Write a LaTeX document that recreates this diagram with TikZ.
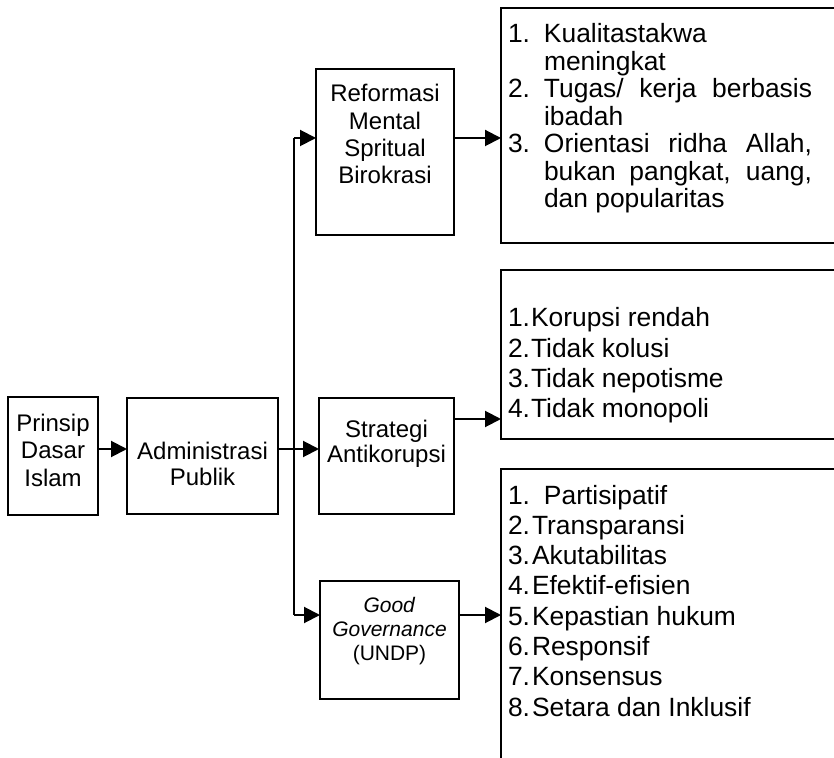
\documentclass[tikz,border=0pt]{standalone}
\usepackage{fontspec}
\setmainfont{Liberation Sans}
\usetikzlibrary{arrows.meta,positioning}

\newcommand{\isikotak}[4]{\parbox[c][#2][t]{#1}{\centering\rule{0pt}{#3}#4}}
\newcommand{\isidaftar}[4]{\parbox[c][#2][t]{#1}{\leftskip=3.5pt\relax\rule{0pt}{#3}#4}}

\begin{document}
\begin{tikzpicture}[x=0.5pt,y=-0.5pt]
\tikzstyle{block} = [rectangle, draw=black, line width=1pt, inner sep=0pt, outer sep=0pt]
\tikzstyle{kiri} = [block, font=\fontsize{12}{13.75}\selectfont]
\tikzstyle{daftar} = [block, anchor=north west, font=\fontsize{13.2}{15.15}\selectfont]
\tikzstyle{arrow} = [line width=1pt,-{Triangle[length=8pt,width=8pt]}]
\tikzstyle{line} = [line width=1pt]
\clip (0,0) rectangle (834,758);
%
\node (prinsip) [kiri, anchor=north west] at (8,397) {\isikotak{45pt}{59pt}{17pt}{Prinsip\\Dasar\\Islam}};
\node (admin) [kiri, font=\fontsize{12}{13}\selectfont, right=14.5pt of prinsip] {\isikotak{75.5pt}{58pt}{30.5pt}{Administrasi\\Publik}};
\node (strategi) [kiri, font=\fontsize{12}{12.5}\selectfont, right=20.5pt of admin] {\isikotak{67.5pt}{58pt}{19.5pt}{Strategi\\Antikorupsi}};
\node (reformasi) [kiri, font=\fontsize{12}{13.6}\selectfont, anchor=north west] at (316,69) {\isikotak{69pt}{83pt}{16.5pt}{Reformasi\\Mental\\Spritual\\Birokrasi}};
\node (good) [kiri, font=\fontsize{10.5}{12}\selectfont, anchor=north west] at (320,581) {\isikotak{69.5pt}{59pt}{15.5pt}{\textit{Good}\\\textit{Governance}\\(UNDP)}};
%
\node (hasil1) [daftar, font=\fontsize{13.2}{13.75}\selectfont] at (501,8) {\isidaftar{174.5pt}{117.5pt}{17.5pt}{%
\makebox[18pt][l]{1.}Kualitastakwa\\
\hspace*{18pt}meningkat\\
\makebox[18pt][l]{2.}\makebox[134pt][s]{Tugas/ kerja berbasis}\\
\hspace*{18pt}ibadah\\
\makebox[18pt][l]{3.}\makebox[134pt][s]{Orientasi ridha Allah,}\\
\hspace*{18pt}\makebox[134pt][s]{bukan pangkat, uang,}\\
\hspace*{18pt}dan popularitas}};
\node (hasil2) [daftar] at (501,270) {\isidaftar{174.5pt}{84.5pt}{28.5pt}{%
\makebox[11.5pt][l]{1.}Korupsi rendah\\
\makebox[11.5pt][l]{2.}Tidak kolusi\\
\makebox[11.5pt][l]{3.}Tidak nepotisme\\
\makebox[11.5pt][l]{4.}Tidak monopoli}};
\node (hasil3) [daftar] at (501,469) {\isidaftar{174.5pt}{153pt}{17.5pt}{%
\makebox[18pt][l]{1.}Partisipatif\\
\makebox[12pt][l]{2.}Transparansi\\
\makebox[12pt][l]{3.}Akutabilitas\\
\makebox[12pt][l]{4.}Efektif-efisien\\
\makebox[12pt][l]{5.}Kepastian hukum\\
\makebox[12pt][l]{6.}Responsif\\
\makebox[12pt][l]{7.}Konsensus\\
\makebox[12pt][l]{8.}Setara dan Inklusif}};
%
\coordinate (atas) at (294,138);
\coordinate (bawah) at (294,615);
\coordinate (keluar) at ([yshift=3.5pt]admin.east);
\coordinate (anti) at ([yshift=18.5pt]strategi.east);
%
\draw [arrow] ([yshift=3.5pt]prinsip.east) -- ([yshift=3.5pt]admin.west);
\draw [line] (atas) -- (bawah);
\draw [arrow] (keluar) -- (keluar -| strategi.west);
\draw [arrow] (atas) -- (atas -| reformasi.west);
\draw [arrow] (bawah) -- (bawah -| good.west);
\draw [arrow] (atas -| reformasi.east) -- (atas -| hasil1.west);
\draw [arrow] (anti) -- (anti -| hasil2.west);
\draw [arrow] (bawah -| good.east) -- (bawah -| hasil3.west);
\end{tikzpicture}
\end{document}
